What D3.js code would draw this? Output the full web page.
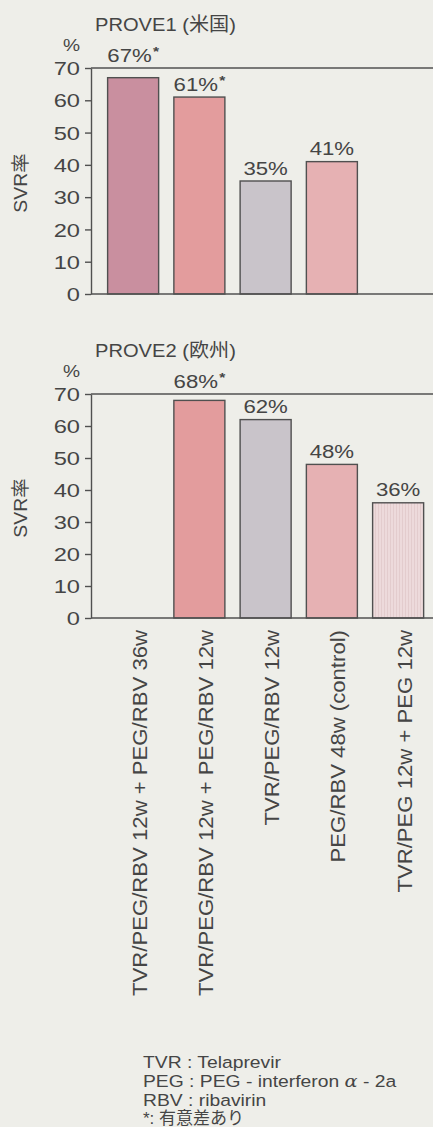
<!DOCTYPE html>
<html>
<head>
<meta charset="utf-8">
<script src="https://cdn.jsdelivr.net/npm/d3@7"></script>
<style>
  html, body { margin: 0; padding: 0; background: #eeeee9; }
  svg { display: block; }
  text { font-family: "Liberation Sans", Arial, "Noto Sans CJK JP", sans-serif; fill: #454545; }
</style>
</head>
<body>
<svg id="chart" width="433" height="1127"></svg>
<script>
// Treatment arms (shared by both trials)
const categories = [
  "TVR/PEG/RBV 12w + PEG/RBV 36w",
  "TVR/PEG/RBV 12w + PEG/RBV 12w",
  "TVR/PEG/RBV 12w",
  "PEG/RBV 48w (control)",
  "TVR/PEG 12w + PEG 12w"
];
// SVR rates (%), null = arm not included in the trial
const prove1Values = [67, 61, 35, 41, null];
const prove2Values = [null, 68, 62, 48, 36];
// significant difference marker
const prove1Significant = [true, true, false, false, false];
const prove2Significant = [false, true, false, false, false];
const panelTitles = ["PROVE1 (米国)", "PROVE2 (欧州)"];
const yTicks = [0, 10, 20, 30, 40, 50, 60, 70];
const yAxisTitle = "SVR率";
const unitLabel = "%";
const footnotes = [
  ["TVR : Telaprevir"],
  ["PEG : PEG - interferon ", "α", " - 2a"],
  ["RBV : ribavirin"],
  ["*: 有意差あり"]
];

// bar fills, one per treatment arm
const palette = ["#c98f9f", "#e39c9d", "#c9c4ca", "#e6b1b3", "url(#stripes)"];

const svg = d3.select("#chart");
const W = 433;

svg.append("rect").attr("width", W).attr("height", 1127).attr("fill", "#eeeee9");

// faint vertical hatching for the lightest bar
const defs = svg.append("defs");
const pat = defs.append("pattern").attr("id", "stripes")
  .attr("patternUnits", "userSpaceOnUse").attr("width", 3).attr("height", 12);
pat.append("rect").attr("width", 3).attr("height", 12).attr("fill", "#eddadb");
pat.append("line").attr("x1", 0.5).attr("x2", 0.5).attr("y1", 0).attr("y2", 12)
  .attr("stroke", "#e3cccd").attr("stroke-width", 1);

const x = d3.scaleBand()
  .domain(categories)
  .range([100, 431.25])
  .paddingInner(0.23)
  .paddingOuter(0.115);

const axisX = 91;
const ink = "#505050";

const panels = [
  { title: panelTitles[0], values: prove1Values, sig: prove1Significant, top: 68, bottom: 294 },
  { title: panelTitles[1], values: prove2Values, sig: prove2Significant, top: 394, bottom: 618 }
];

panels.forEach(p => {
  const y = d3.scaleLinear().domain([0, 70]).range([p.bottom, p.top]);
  const g = svg.append("g");

  // panel title
  g.append("text")
    .attr("transform", `translate(95,${p.top - 37.5}) scale(1.06,1)`)
    .attr("font-size", 19)
    .text(p.title);

  // unit
  g.append("text")
    .attr("transform", `translate(80,${p.top - 17}) scale(1.2,1)`)
    .attr("text-anchor", "end")
    .attr("font-size", 16)
    .text(unitLabel);

  // y-axis title
  g.append("text")
    .attr("transform", `translate(20,${(p.top + p.bottom) / 2 + 2}) rotate(-90) scale(1.05,1)`)
    .attr("text-anchor", "middle")
    .attr("dy", "0.36em")
    .attr("font-size", 18.5)
    .text(yAxisTitle);

  // bars
  const rows = categories.map((c, i) => ({ c, v: p.values[i], sig: p.sig[i], fill: palette[i] }))
    .filter(d => d.v != null);

  g.selectAll("rect.bar").data(rows).join("rect")
    .attr("class", "bar")
    .attr("x", d => x(d.c))
    .attr("width", x.bandwidth())
    .attr("y", d => y(d.v))
    .attr("height", d => y(0) - y(d.v))
    .attr("fill", d => d.fill)
    .attr("stroke", ink)
    .attr("stroke-width", 1.4);

  // frame lines at 70 and 0
  [70, 0].forEach(v => {
    g.append("line")
      .attr("x1", axisX).attr("x2", W)
      .attr("y1", y(v)).attr("y2", y(v))
      .attr("stroke", ink).attr("stroke-width", 1.4);
  });

  // left axis
  const ax = g.append("g")
    .attr("transform", `translate(${axisX},0)`)
    .call(d3.axisLeft(y).tickValues(yTicks).tickSize(6).tickSizeOuter(0));
  ax.select(".domain").attr("stroke", ink).attr("stroke-width", 1.4);
  ax.selectAll(".tick line").attr("stroke", ink).attr("stroke-width", 1.4);
  ax.selectAll(".tick text")
    .attr("x", null)
    .attr("dy", "0.36em")
    .attr("transform", "translate(-11,0) scale(1.28,1)")
    .attr("font-size", 18.5)
    .attr("font-family", null)
    .attr("fill", "#454545");
  ax.attr("font-family", null).attr("font-size", null);

  // value labels: just above the bar, lifted above the top frame line when they would cross it
  const labelBase = v => {
    const b = y(v) - 6.5;
    return (b - 14 < y(70) + 2) ? y(70) - 6.5 : b;
  };
  const lab = g.selectAll("text.val").data(rows).join("text")
    .attr("class", "val")
    .attr("text-anchor", "middle")
    .attr("font-size", 18.5)
    .attr("transform", d =>
      `translate(${x(d.c) + x.bandwidth() / 2},${labelBase(d.v)}) scale(1.2,1)`);
  lab.append("tspan").text(d => d.v + "%");
  lab.filter(d => d.sig).append("tspan")
    .attr("font-size", 13)
    .attr("font-weight", "bold")
    .attr("dx", 1)
    .attr("dy", -6)
    .text("*");
});

// rotated category labels below the lower panel
svg.selectAll("text.cat").data(categories).join("text")
  .attr("class", "cat")
  .attr("text-anchor", "end")
  .attr("dy", "0.36em")
  .attr("font-size", 20.5)
  .attr("transform", c => `translate(${x(c) + x.bandwidth() / 2 + 6},630) rotate(-90) scale(1.08,1)`)
  .text(c => c);

// abbreviations
const notes = svg.append("g");
footnotes.forEach((parts, i) => {
  const isCjk = i === footnotes.length - 1;
  const t = notes.append("text")
    .attr("font-size", isCjk ? 17 : 16.5)
    .attr("transform", `translate(143,${1068 + i * 18.8}) scale(${isCjk ? 1.0 : 1.17},1)`);
  parts.forEach(s => {
    const ts = t.append("tspan").text(s);
    if (s === "α") ts.attr("font-style", "italic").attr("font-family", "'DejaVu Serif', serif");
  });
});
</script>
</body>
</html>
